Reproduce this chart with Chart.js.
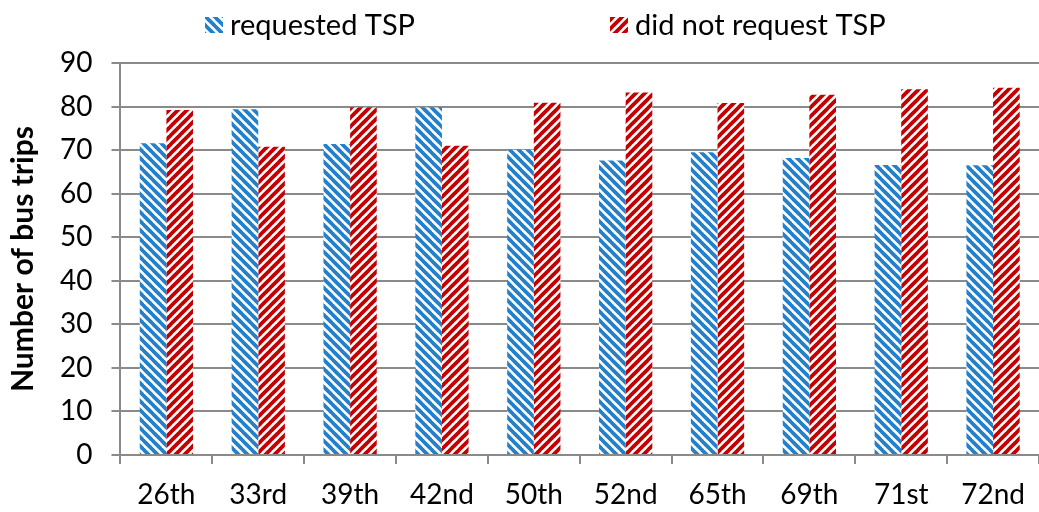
<!DOCTYPE html>
<html>
<head>
<meta charset="utf-8">
<script src="https://cdn.jsdelivr.net/npm/chart.js@4.4.0/dist/chart.umd.min.js"></script>
<style>
  html, body { margin: 0; padding: 0; background: #fff; }
  #wrap { width: 1039px; height: 512px; }
</style>
</head>
<body>
<div id="wrap"><canvas id="tspChart" width="1039" height="512"></canvas></div>
<script>
// data
const stops = ['26th', '33rd', '39th', '42nd', '50th', '52nd', '65th', '69th', '71st', '72nd'];
const requestedTsp = [71.6, 79.4, 71.4, 79.8, 70.1, 67.6, 69.5, 68.2, 66.6, 66.5];
const notRequestedTsp = [79.2, 70.8, 79.8, 71.0, 80.9, 83.2, 80.8, 82.7, 84.0, 84.3];
const yTicks = [0, 10, 20, 30, 40, 50, 60, 70, 80, 90];

// striped fill, like the excel pattern fill
function stripes(color, backslash) {
  const size = 9;
  const c = document.createElement('canvas');
  c.width = size;
  c.height = size;
  const g = c.getContext('2d');
  g.fillStyle = '#fff';
  g.fillRect(0, 0, size, size);
  g.strokeStyle = color;
  g.lineWidth = 3.8;
  for (let k = -1; k <= 1; k++) {
    g.beginPath();
    if (backslash) {
      g.moveTo(k * size - 1, -1);
      g.lineTo(k * size + size + 1, size + 1);
    } else {
      g.moveTo(k * size - 1, size + 1);
      g.lineTo(k * size + size + 1, -1);
    }
    g.stroke();
  }
  return g.createPattern(c, 'repeat');
}

const ctx = document.getElementById('tspChart').getContext('2d');
const bluePattern = stripes('#2480ca', true);
const redPattern = stripes('#c40000', false);

const gridGray = '#8a8a8a';
const font = 'Lato, "Open Sans", sans-serif';

// legend drawn like the excel one: wide gaps between the two entries
const legendSlots = [205, 610];
const excelLegend = {
  id: 'excelLegend',
  afterDraw(chart) {
    const c = chart.ctx;
    c.save();
    c.font = '29px ' + font;
    c.textBaseline = 'middle';
    chart.data.datasets.forEach((ds, i) => {
      const x = legendSlots[i];
      c.fillStyle = ds.backgroundColor;
      c.fillRect(x, 17, 18, 16);
      c.fillStyle = '#000';
      c.fillText(ds.label, x + 25, 26);
    });
    c.restore();
  }
};

new Chart(ctx, {
  type: 'bar',
  data: {
    labels: stops,
    datasets: [
      {
        label: 'requested TSP',
        data: requestedTsp,
        backgroundColor: bluePattern,
        borderWidth: 0
      },
      {
        label: 'did not request TSP',
        data: notRequestedTsp,
        backgroundColor: redPattern,
        borderWidth: 0
      }
    ]
  },
  plugins: [excelLegend],
  options: {
    responsive: false,
    animation: false,
    layout: { padding: { left: 0, right: 0, top: 63, bottom: 0 } },
    datasets: {
      bar: { categoryPercentage: 0.58, barPercentage: 1.0 }
    },
    plugins: {
      tooltip: { enabled: false },
      legend: { display: false }
    },
    scales: {
      x: {
        afterFit: scale => { scale.height = 57; },
        grid: {
          offset: true,
          drawOnChartArea: false,
          color: gridGray,
          lineWidth: 2,
          tickLength: 9
        },
        border: { color: gridGray, width: 2 },
        ticks: {
          color: '#000',
          font: { family: font, size: 28 },
          padding: 14,
          maxRotation: 0
        }
      },
      y: {
        min: 0,
        max: 90,
        afterBuildTicks: axis => {
          axis.ticks = yTicks.map(v => ({ value: v }));
        },
        grid: {
          color: gridGray,
          lineWidth: 2,
          tickLength: 9
        },
        border: { color: gridGray, width: 2 },
        ticks: {
          color: '#000',
          font: { family: font, size: 28 },
          padding: 19
        },
        title: {
          display: true,
          text: 'Number of bus trips',
          color: '#000',
          font: { family: font, size: 30, weight: 'bold', lineHeight: 1.2 },
          padding: { top: 5, bottom: 0 }
        }
      }
    }
  }
});
</script>
</body>
</html>
